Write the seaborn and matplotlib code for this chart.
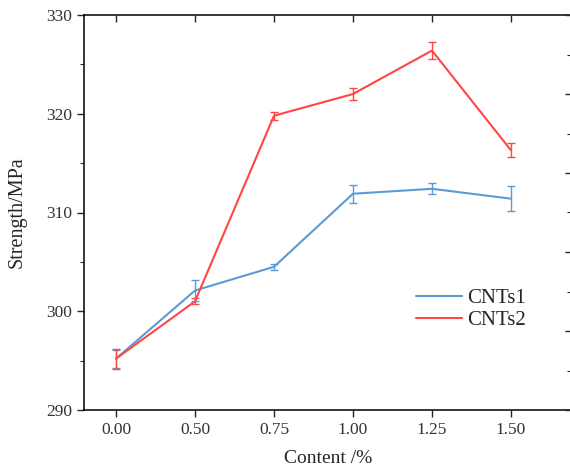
import matplotlib
matplotlib.use("Agg")
import matplotlib.pyplot as plt
from matplotlib.ticker import MultipleLocator
import numpy as np
import pandas as pd
import seaborn as sns

contents = ["0.00", "0.50", "0.75", "1.00", "1.25", "1.50"]
cnts1 = [295.2, 302.1, 304.5, 311.9, 312.4, 311.4]
cnts1_err = [0.9, 1.1, 0.3, 0.9, 0.55, 1.25]
cnts2 = [295.2, 301.0, 319.8, 322.0, 326.4, 316.3]
cnts2_err = [1.0, 0.3, 0.4, 0.6, 0.85, 0.7]

colors = {"CNTs1": "#5b9bd5", "CNTs2": "#ff4646"}

pos = np.arange(len(contents))
df = pd.concat([
	pd.DataFrame({"pos": pos, "strength": cnts1, "err": cnts1_err, "series": "CNTs1"}),
	pd.DataFrame({"pos": pos, "strength": cnts2, "err": cnts2_err, "series": "CNTs2"}),
])

sns.set_style("ticks")
plt.rcParams["font.family"] = ["Liberation Serif", "DejaVu Serif"]

fig = plt.figure(figsize=(5.7, 4.7), dpi=100)
rect = [84 / 570, 60 / 470, 489 / 570, 395 / 470]
ax = fig.add_axes(rect)

sns.lineplot(data=df, x="pos", y="strength", hue="series", palette=colors,
			 linewidth=1.5, ax=ax)
for name, part in df.groupby("series"):
	ax.errorbar(part["pos"], part["strength"], yerr=part["err"], fmt="none",
				ecolor=colors[name], elinewidth=1.0, capsize=2.8, capthick=1.0)

xlim = (-0.405, 5.785)
ax.set_xlim(*xlim)
ax.set_ylim(290, 330)
ax.set_xticks(pos)
ax.set_xticklabels(contents)
ax.yaxis.set_major_locator(MultipleLocator(10))
ax.yaxis.set_minor_locator(MultipleLocator(5))
ax.tick_params(axis="both", which="major", direction="out", length=5, width=1,
			   labelsize=12.5, labelcolor="#333333")
ax.tick_params(axis="y", which="minor", direction="out", length=3, width=0.8)

for side in ["left", "bottom", "top"]:
	ax.spines[side].set_linewidth(1.1)
	ax.spines[side].set_color("black")
ax.spines["right"].set_visible(False)

ax.set_xlabel("Content /%", fontsize=14, labelpad=9)
ax.set_ylabel("Strength/MPa", fontsize=14.5, labelpad=14)

# top ticks (inward) and the cut-off right axis ticks
top = ax.twiny()
top.set_xlim(*xlim)
top.set_xticks(pos)
top.tick_params(axis="x", direction="in", length=5, width=1, labeltop=False)
right = ax.twinx()
right.set_ylim(0, 1)
right.yaxis.set_major_locator(MultipleLocator(0.2))
right.yaxis.set_minor_locator(MultipleLocator(0.1))
right.tick_params(axis="y", which="major", direction="in", length=6, width=1, labelright=False)
right.tick_params(axis="y", which="minor", direction="in", length=4, width=0.8)
for extra in (top, right):
	for s in extra.spines.values():
		s.set_visible(False)

ax.legend(title=None, frameon=False, fontsize=15, handlelength=2.2,
		  handletextpad=0.25, labelspacing=0.1,
		  loc="upper left", bbox_to_anchor=(397 / 570, (470 - 270) / 470),
		  bbox_transform=fig.transFigure)

fig.savefig("out.png", dpi=100)
